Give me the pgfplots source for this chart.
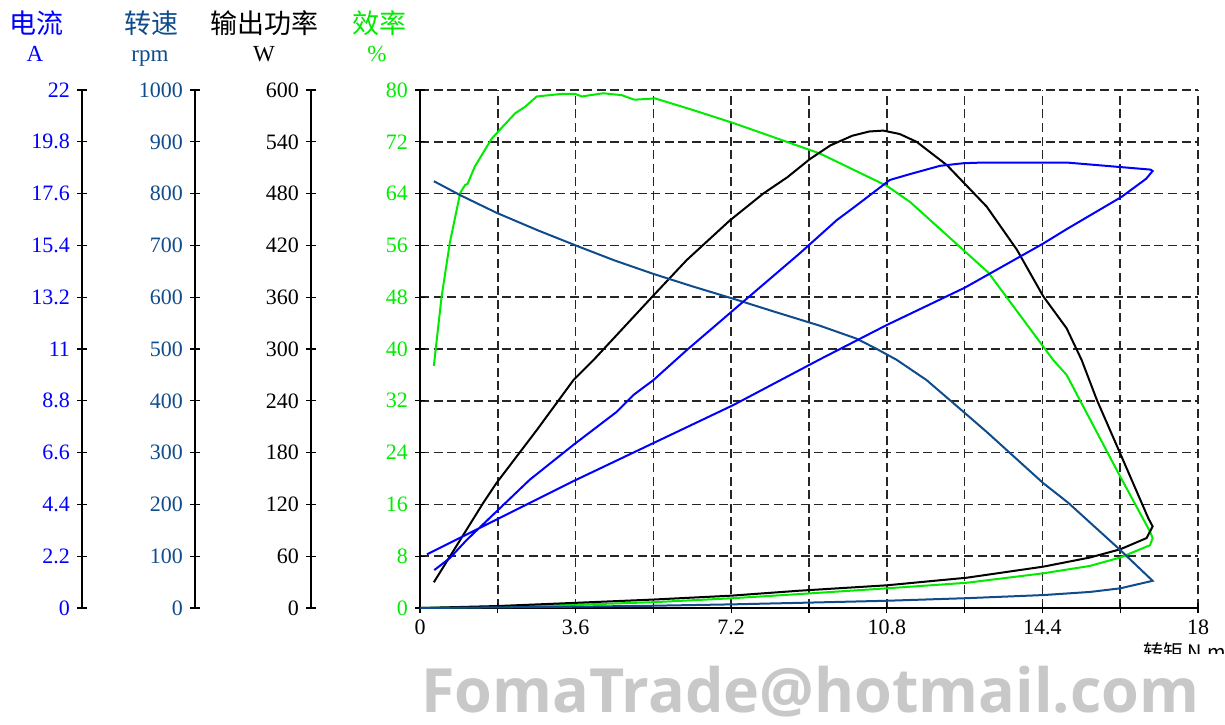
\documentclass[border=0pt]{standalone}
\usepackage{fontspec}
\setmainfont{Liberation Serif}
\newfontfamily\cjk{Noto Sans CJK SC}
\newfontfamily\wmfont{Open Sans}
\usepackage{pgfplots}
\pgfplotsset{compat=1.18}
\definecolor{curblue}{RGB}{0,0,255}
\definecolor{spdblue}{RGB}{16,76,140}
\definecolor{effgreen}{RGB}{0,235,0}
\definecolor{wmgray}{RGB}{200,200,200}
\pgfplotsset{
  /pgf/number format/assume math mode=true,
  every tick label/.append style={font=\fontsize{11}{13}\selectfont},
  base/.style={scale only axis, width=389pt, height=259pt, at={(210pt,-304pt)}, anchor=south west, xmin=0, xmax=18},
  over/.style={base, hide axis},
  leftax/.style={scale only axis, width=1pt, height=259pt, anchor=south west,
    hide x axis, axis y line*=left, axis line style={black, line width=0.8pt},
    tick align=center, major tick length=5pt, tick style={black, line width=0.6pt},
    xmin=0, xmax=1, ymin=0},
}
\begin{document}
\begin{tikzpicture}
\path[use as bounding box] (0pt,0pt) rectangle (612.5pt,-362pt);

% header labels
\node[text=curblue, font=\cjk\fontsize{13.5}{15}\selectfont] at (18.5pt,-11.5pt) {电流};
\node[text=curblue, anchor=base, font=\fontsize{11.5}{13}\selectfont] at (17.5pt,-30.5pt) {A};
\node[text=spdblue, font=\cjk\fontsize{13.5}{15}\selectfont] at (75.5pt,-11.5pt) {转速};
\node[text=spdblue, anchor=base, font=\fontsize{11.5}{13}\selectfont] at (75pt,-30.5pt) {rpm};
\node[text=black, font=\cjk\fontsize{13.5}{15}\selectfont] at (132pt,-11.5pt) {输出功率};
\node[text=black, anchor=base, font=\fontsize{11.5}{13}\selectfont] at (132pt,-30.5pt) {W};
\node[text=effgreen, font=\cjk\fontsize{13.5}{15}\selectfont] at (189.5pt,-11.5pt) {效率};
\node[text=effgreen, anchor=base, font=\fontsize{11.5}{13}\selectfont] at (188.5pt,-30.5pt) {\%};

% left scales
\begin{axis}[leftax, at={(41pt,-304pt)}, ymax=22,
  ytick={0,2.2,4.4,6.6,8.8,11,13.2,15.4,17.6,19.8,22},
  yticklabels={0,2.2,4.4,6.6,8.8,11,13.2,15.4,17.6,19.8,22},
  yticklabel style={text=curblue}]
\addplot[draw=none] coordinates {(0,0)};
\end{axis}
\begin{axis}[leftax, at={(97.5pt,-304pt)}, ymax=1000,
  ytick={0,100,200,300,400,500,600,700,800,900,1000},
  yticklabels={0,100,200,300,400,500,600,700,800,900,1000},
  yticklabel style={text=spdblue}]
\addplot[draw=none] coordinates {(0,0)};
\end{axis}
\begin{axis}[leftax, at={(155.5pt,-304pt)}, ymax=600,
  ytick={0,60,120,180,240,300,360,420,480,540,600},
  yticklabels={0,60,120,180,240,300,360,420,480,540,600},
  yticklabel style={text=black}]
\addplot[draw=none] coordinates {(0,0)};
\end{axis}

% main axis (efficiency scale)
\begin{axis}[base, ymin=0, ymax=80,
  axis x line*=bottom, axis y line*=left,
  axis line style={black, line width=0.8pt},
  xtick={0,1.8,3.6,5.4,7.2,9,10.8,12.6,14.4,16.2,18},
  xticklabels={0,,3.6,,7.2,,10.8,,14.4,,18},
  ytick={0,8,16,24,32,40,48,56,64,72,80},
  yticklabels={0,8,16,24,32,40,48,56,64,72,80},
  yticklabel style={text=effgreen},
  grid=major, grid style={black!85, line width=0.85pt, dash pattern=on 4.5pt off 2.3pt},
  tick align=center, major tick length=5pt, tick style={black, line width=0.6pt}]
\addplot[effgreen, line width=1pt] coordinates {
(0.32,37.4)(0.50,48.1)(0.69,56.4)(0.93,64.1)(1.04,65.3)(1.10,65.5)(1.27,68.2)(1.66,72.5)(2.2,76.4)(2.43,77.4)(2.70,79.0)(3.28,79.4)(3.59,79.4)(3.74,79.0)(4.24,79.5)(4.67,79.2)(4.96,78.5)(5.44,78.7)(6.32,76.9)(7.25,74.9)(9.25,70.2)(10.80,65.2)(11.34,62.7)(13.15,51.8)(14.65,38.3)(14.96,36.0)(16.2,20.3)(16.89,11.8)(16.95,10.8)(16.89,9.7)(16.2,7.8)(15.5,6.5)(14.42,5.36)(12.65,3.9)(10.8,3.04)(8.79,2.16)(7.2,1.5)(5.4,0.9)(3.6,0.5)(1.8,0.2)(0,0)};
\end{axis}

% output power (W)
\begin{axis}[over, ymin=0, ymax=600]
\addplot[black, line width=1pt] coordinates {
(0.32,29.8)(1.46,121.5)(1.77,144.8)(2.70,206)(3.55,264)(4.01,287)(5.40,362)(6.17,403)(7.17,449)(7.94,480)(8.5,499)(9.02,520)(9.5,536)(10.0,547)(10.4,552)(10.72,553)(11.1,549)(11.49,540)(12.19,513)(13.11,465)(13.81,415)(14.42,361)(14.96,324)(15.31,287)(15.66,241)(16.2,179)(16.85,104)(16.95,94.5)(16.81,81)(16.2,68)(15.5,58.5)(14.42,47.9)(12.65,35.1)(10.8,26.3)(8.79,20.1)(7.2,14.3)(5.4,9.8)(3.6,6)(1.8,2.3)(0,0)};
\end{axis}

% speed (rpm)
\begin{axis}[over, ymin=0, ymax=1000]
\addplot[spdblue, line width=1pt] coordinates {
(0.32,824)(0.93,797)(1.77,763)(2.7,730)(3.6,700)(4.5,671)(5.4,645)(6.3,621)(7.25,597)(8.2,572)(9.25,545)(10.1,520)(10.57,500)(11.03,479)(11.72,440)(12.57,379)(13.11,340)(14.42,241)(15.0,203)(16.2,112)(16.95,52.5)(16.2,38)(15.5,31)(14.42,25)(12.65,19)(10.8,14)(8.79,10)(7.2,7)(5.4,4.4)(3.6,2.5)(0,0)};
\end{axis}

% current (A)
\begin{axis}[over, ymin=0, ymax=22]
\addplot[curblue, line width=1pt] coordinates {
(0.16,2.28)(3.55,5.39)(7.25,8.62)(9.25,10.56)(10.80,12.02)(12.61,13.61)(14.42,15.48)(14.96,16.09)(16.23,17.46)(16.8,18.23)(16.95,18.56)(16.9,18.62)(14.96,18.92)(13.03,18.92)(12.57,18.89)(12.03,18.78)(11.34,18.43)(10.87,18.18)(10.10,17.1)(9.64,16.47)(8.79,15.07)(7.44,12.95)(6.17,10.95)(5.40,9.68)(4.94,9.05)(4.55,8.33)(3.55,6.93)(2.54,5.45)(1.77,4.10)(1.08,2.89)(0.69,2.12)(0.33,1.61)};
\end{axis}

% clipped torque label
\begin{scope}
\clip (565pt,-318pt) rectangle (612.5pt,-326.5pt);
\node[anchor=north west, inner sep=0pt, font=\cjk\fontsize{10}{12}\selectfont] at (571.5pt,-321pt) {转矩 N.m};
\end{scope}

% watermark
\node[text=wmgray, anchor=base west, inner sep=0pt, font=\wmfont\bfseries\fontsize{30.5}{32}\selectfont] at (210.5pt,-356pt) {FomaTrade@hotmail.com};
\end{tikzpicture}
\end{document}
